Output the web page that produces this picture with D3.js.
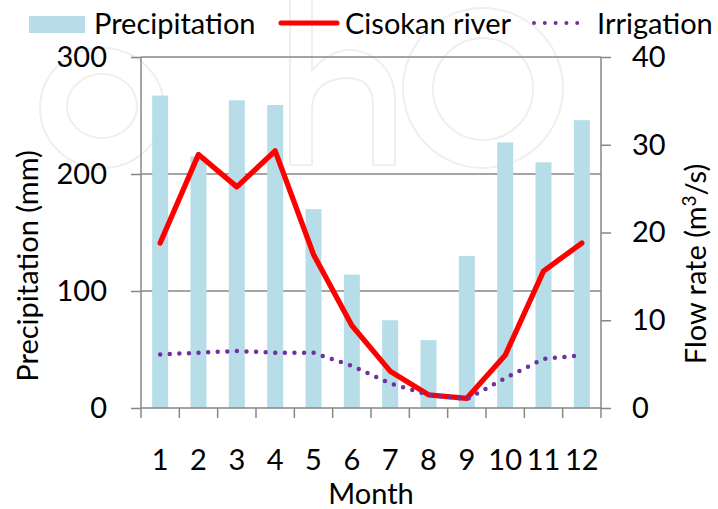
<!DOCTYPE html>
<html>
<head>
<meta charset="utf-8">
<script src="https://cdn.jsdelivr.net/npm/d3@7"></script>
<style>
  html, body { margin: 0; padding: 0; background: #fff; }
  svg { display: block; }
  text { font-family: Lato, "Noto Sans", sans-serif; fill: #000; }
</style>
</head>
<body>
<svg id="chart" width="718" height="509"></svg>
<script>
// ---- data ----
const months = ["1","2","3","4","5","6","7","8","9","10","11","12"];
const precipitation = [267, 215, 263, 259, 170, 114, 75, 58, 130, 227, 210, 246];
const cisokan = [18.8, 28.9, 25.2, 29.3, 17.5, 9.4, 4.2, 1.5, 1.1, 6.0, 15.6, 18.8];
const irrigation = [6.1, 6.3, 6.5, 6.3, 6.3, 4.8, 2.8, 1.5, 1.0, 3.4, 5.6, 6.0];
const leftTicks = [0, 100, 200, 300];
const rightTicks = [0, 10, 20, 30, 40];
const seriesNames = ["Precipitation", "Cisokan river", "Irrigation"];

// ---- layout ----
const svg = d3.select("#chart");
const plot = { left: 141, right: 601, top: 57, bottom: 408 };
const axisColor = "#878787";
const barColor = "#b7dde8";
const redColor = "#ff0000";
const purpleColor = "#7030a0";
const fs = 29;

// faint background watermark rings (decorative)
const wm = svg.append("g").attr("fill", "none").attr("stroke", "#efefef").attr("stroke-width", 2);
wm.append("ellipse").attr("cx", 483).attr("cy", 88).attr("rx", 80).attr("ry", 80);
wm.append("ellipse").attr("cx", 483).attr("cy", 89).attr("rx", 50).attr("ry", 51);
wm.append("ellipse").attr("cx", 102).attr("cy", 108).attr("rx", 62).attr("ry", 60);
wm.append("ellipse").attr("cx", 102).attr("cy", 106).attr("rx", 35).attr("ry", 32);
wm.append("path").attr("d", "M290,165 V-5 H312 V70 Q340,40 370,55 Q395,70 395,100 V165 H373 V105 Q373,80 350,78 Q312,78 312,110 V165 Z");

const x = d3.scaleBand().domain(months).range([plot.left, plot.right]).paddingInner(0).paddingOuter(0);
const yL = d3.scaleLinear().domain([0, 300]).range([plot.bottom, plot.top]);
const yR = d3.scaleLinear().domain([0, 40]).range([plot.bottom, plot.top]);

// gridlines
svg.append("g").selectAll("line").data(leftTicks.slice(1)).join("line")
  .attr("x1", plot.left).attr("x2", plot.right)
  .attr("y1", d => yL(d)).attr("y2", d => yL(d))
  .attr("stroke", axisColor).attr("stroke-width", 1.5);

// bars
const barW = 16;
svg.append("g").selectAll("rect").data(precipitation).join("rect")
  .attr("x", (d, i) => x(months[i]) + x.bandwidth() / 2 - barW / 2)
  .attr("width", barW)
  .attr("y", d => yL(d))
  .attr("height", d => yL(0) - yL(d))
  .attr("fill", barColor);

// axes
const gL = svg.append("g").attr("transform", `translate(${plot.left},0)`)
  .call(d3.axisLeft(yL).tickValues(leftTicks).tickSize(10).tickPadding(24).tickFormat(d3.format("d")));
const gR = svg.append("g").attr("transform", `translate(${plot.right},0)`)
  .call(d3.axisRight(yR).tickValues(rightTicks).tickSize(10).tickPadding(21).tickFormat(d3.format("d")));
const gB = svg.append("g").attr("transform", `translate(0,${plot.bottom})`)
  .call(d3.axisBottom(x).tickSize(0).tickPadding(41));

// bottom tick marks at category boundaries
const boundaries = months.map(m => x(m)).concat([plot.right]);
svg.append("g").selectAll("line").data(boundaries).join("line")
  .attr("x1", d => d).attr("x2", d => d)
  .attr("y1", plot.bottom).attr("y2", plot.bottom + 10)
  .attr("stroke", axisColor).attr("stroke-width", 1.5);

[gL, gR, gB].forEach(g => {
  g.selectAll(".domain").attr("stroke", axisColor).attr("stroke-width", 1.5);
  g.selectAll(".tick line").attr("stroke", axisColor).attr("stroke-width", 1.5);
  g.selectAll(".tick text").style("font-family", "Lato, sans-serif").style("font-size", fs + "px").attr("fill", "#000");
});
gL.select(".domain").attr("d", `M-0,${plot.bottom}V${plot.top}`);
gR.select(".domain").attr("d", `M0,${plot.bottom}V${plot.top}`);
gB.select(".domain").attr("d", `M${plot.left},0H${plot.right}`);

// lines
const lineR = d3.line().x((d, i) => x(months[i]) + x.bandwidth() / 2).y(d => yR(d));
svg.append("path").datum(cisokan)
  .attr("d", lineR).attr("fill", "none")
  .attr("stroke", redColor).attr("stroke-width", 5.3).attr("stroke-linejoin", "round").attr("stroke-linecap", "round");
svg.append("path").datum(irrigation)
  .attr("d", lineR).attr("fill", "none")
  .attr("stroke", purpleColor).attr("stroke-width", 4.5)
  .attr("stroke-dasharray", "0 9.6").attr("stroke-linecap", "round");

// axis titles
svg.append("text").attr("transform", "translate(38,266) rotate(-90)")
  .attr("text-anchor", "middle").style("font-size", fs + "px").text("Precipitation (mm)");
const rt = svg.append("text").attr("transform", "translate(706,264) rotate(-90)")
  .attr("text-anchor", "middle").style("font-size", fs + "px");
rt.append("tspan").text("Flow rate (m");
rt.append("tspan").attr("dy", -10).style("font-size", "19px").text("3");
rt.append("tspan").attr("dy", 10).text("/s)");
svg.append("text").attr("x", (plot.left + plot.right) / 2).attr("y", 504)
  .attr("text-anchor", "middle").style("font-size", fs + "px").text("Month");

// legend
const lg = svg.append("g");
lg.append("rect").attr("x", 29).attr("y", 16).attr("width", 56).attr("height", 17).attr("fill", barColor);
lg.append("text").attr("x", 94).attr("y", 34).style("font-size", fs + "px").text(seriesNames[0]);
lg.append("line").attr("x1", 281).attr("x2", 337).attr("y1", 23).attr("y2", 23)
  .attr("stroke", redColor).attr("stroke-width", 5).attr("stroke-linecap", "round");
lg.append("text").attr("x", 345).attr("y", 34).style("font-size", fs + "px").text(seriesNames[1]);
lg.append("line").attr("x1", 534).attr("x2", 588).attr("y1", 23).attr("y2", 23)
  .attr("stroke", purpleColor).attr("stroke-width", 4).attr("stroke-dasharray", "0 10.8").attr("stroke-linecap", "round");
lg.append("text").attr("x", 597).attr("y", 34).style("font-size", fs + "px").text(seriesNames[2]);
</script>
</body>
</html>
